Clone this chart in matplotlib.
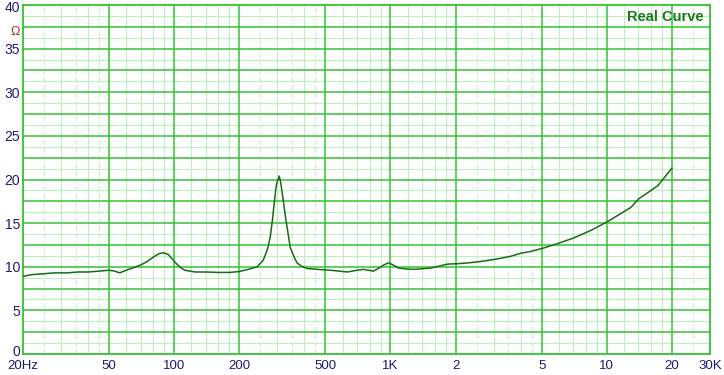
import matplotlib
matplotlib.use("Agg")
import matplotlib.pyplot as plt
import matplotlib.transforms as mtransforms

# impedance curve
freq = [20, 22, 25, 28, 32, 36, 40, 45, 50, 53, 56, 60, 65, 70, 75, 80, 85, 89, 94,
        101, 107, 112, 125, 140, 160, 180, 200, 228, 242, 258, 270, 278, 285, 290,
        296, 300, 306, 311, 316, 327, 344, 360, 371, 392, 413, 460, 528, 580, 632,
        700, 750, 834, 878, 930, 980, 1030, 1089, 1180, 1279, 1532, 1837, 2043,
        2300, 2611, 3128, 3597, 4000, 4449, 5107, 6000, 7033, 8500, 10116, 11614,
        12916, 14070, 15490, 17230, 20000]
ohms = [8.9, 9.1, 9.2, 9.3, 9.3, 9.4, 9.4, 9.5, 9.6, 9.5, 9.3, 9.6, 9.9, 10.2,
        10.6, 11.1, 11.5, 11.6, 11.4, 10.5, 9.9, 9.6, 9.4, 9.4, 9.35, 9.35, 9.45,
        9.8, 10.0, 10.75, 12.0, 13.4, 15.5, 17.3, 19.2, 19.8, 20.4, 19.6, 18.4,
        15.7, 12.2, 11.0, 10.4, 10.0, 9.8, 9.7, 9.6, 9.5, 9.4, 9.6, 9.7, 9.5, 9.8,
        10.2, 10.45, 10.2, 9.85, 9.75, 9.7, 9.85, 10.3, 10.35, 10.45, 10.6, 10.9,
        11.2, 11.55, 11.75, 12.15, 12.7, 13.3, 14.2, 15.2, 16.1, 16.8, 17.8, 18.5,
        19.3, 21.3]

xticks = [20, 50, 100, 200, 500, 1000, 2000, 5000, 10000, 20000, 30000]
xlabels = ["20Hz", "50", "100", "200", "500", "1K", "2", "5", "10", "20", "30K"]
yticks = list(range(0, 41, 5))

# grid layout of the analyser screen
major_v = [50, 100, 200, 500, 1000, 2000, 5000, 10000, 20000]
minor_v, dash_v = [], []
for d in [10, 100, 1000, 10000]:
    for m in [3, 4, 6, 7, 8, 9, 12, 14, 16, 18]:
        if 20 < m * d < 30000:
            minor_v.append(m * d)
    for m in [2.5, 3.5, 4.5]:
        if 20 < m * d < 30000:
            dash_v.append(m * d)

GREEN = "#33c233"
LIGHT = "#bdeebd"
NAVY = "#1c1c70"

fig = plt.figure(figsize=(7.24, 3.75), dpi=100)
ax = fig.add_axes([23 / 724, 21 / 375, 687 / 724, 349 / 375])
ax.set_xscale("log")
ax.set_xlim(20, 30000)
ax.set_ylim(0, 40)

for y in [i * 1.25 for i in range(1, 32, 2)]:
    ax.axhline(y, color=LIGHT, lw=0.8, zorder=1)
for y in [i * 2.5 for i in range(1, 16)]:
    ax.axhline(y, color=GREEN, lw=1.1, zorder=2)
for f in minor_v:
    ax.axvline(f, color=LIGHT, lw=0.8, zorder=1)
for f in dash_v:
    ax.axvline(f, color="#c6f0c6", lw=0.8, ls=(0, (4, 3)), zorder=1)
for f in major_v:
    ax.axvline(f, color=GREEN, lw=1.1, zorder=2)

ax.plot(freq, ohms, color="#176b17", lw=1.1, zorder=5)

for s in ax.spines.values():
    s.set_color(GREEN)
    s.set_linewidth(1.3)

ax.set_xticks(xticks)
ax.set_xticklabels(xlabels)
ax.xaxis.set_minor_locator(matplotlib.ticker.NullLocator())
ax.set_yticks(yticks)
ax.tick_params(length=0, labelcolor=NAVY)
ax.tick_params(axis="x", pad=4, labelsize=9.5)
ax.tick_params(axis="y", pad=2, labelsize=10)
for t in ax.get_xticklabels() + ax.get_yticklabels():
    t.set_family("Liberation Sans")

# the "0" sits a little higher so it clears "20Hz"
up = mtransforms.ScaledTranslation(0, 3 / 100, fig.dpi_scale_trans)
lab0 = ax.get_yticklabels()[0]
lab0.set_transform(lab0.get_transform() + up)
# the "40" sits a little lower so it stays inside the picture
down = mtransforms.ScaledTranslation(0, -2 / 100, fig.dpi_scale_trans)
lab40 = ax.get_yticklabels()[-1]
lab40.set_transform(lab40.get_transform() + down)

ax.text(-0.004, 36.9, "Ω", transform=ax.get_yaxis_transform(), ha="right",
        va="center", color="#a03020", fontsize=9, family="Liberation Sans")
ax.text(0.99, 0.985, "Real Curve", transform=ax.transAxes, ha="right", va="top",
        color="#1a7a1a", fontsize=10.5, fontweight="bold", family="Liberation Sans")

fig.savefig("out.png", dpi=100)
